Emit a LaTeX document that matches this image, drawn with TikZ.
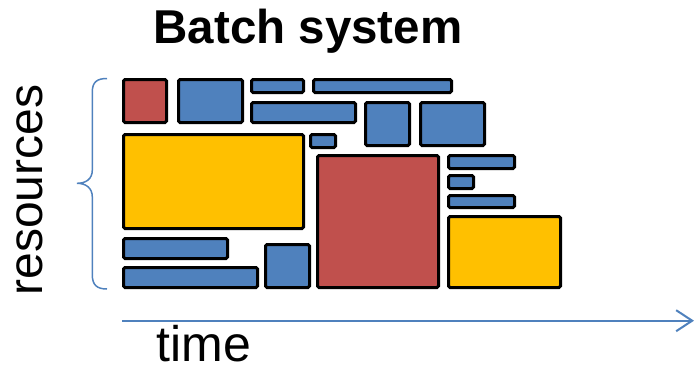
\documentclass[tikz,border=0pt]{standalone}
\usepackage{fontspec}
\setmainfont{Liberation Sans}
\usetikzlibrary{arrows.meta}
\definecolor{jobblue}{RGB}{79,129,189}
\definecolor{jobred}{RGB}{192,80,77}
\definecolor{jobyellow}{RGB}{255,192,0}
\definecolor{axisblue}{RGB}{79,129,189}
\tikzset{
  job/.style={draw=black, line width=3pt, rounded corners=1.5pt},
  bluejob/.style={job, fill=jobblue},
  redjob/.style={job, fill=jobred},
  yellowjob/.style={job, fill=jobyellow},
  bigtext/.style={inner sep=0pt},
}
\begin{document}
\begin{tikzpicture}[x=1pt,y=-1pt]
\useasboundingbox (0,0) rectangle (694,365);
% title
\node[bigtext, font=\fontsize{47.5}{56}\selectfont\bfseries, anchor=base] (title) at (308,43.3) {Batch system};
% jobs (outer edges shrunk by half the line width)
\def\job#1#2#3#4#5{\draw[#1] (#2+1.5,#3+1.5) rectangle (#4-1.5,#5-1.5);}
\job{redjob}{122}{78}{168}{124}
\job{bluejob}{177}{78}{244}{124}
\job{bluejob}{250}{78}{305}{94}
\job{bluejob}{312}{78}{453}{94}
\job{bluejob}{250}{101}{357}{124}
\job{bluejob}{364}{101}{411}{147}
\job{bluejob}{419}{101}{486}{147}
\job{yellowjob}{122}{133}{305}{230}
\job{bluejob}{309}{133}{337}{149}
\job{redjob}{316}{154}{440}{289}
\job{bluejob}{447}{154}{516}{170}
\job{bluejob}{447}{174}{475}{190}
\job{bluejob}{447}{194}{516}{209}
\job{yellowjob}{447}{215}{562}{289}
\job{bluejob}{122}{237}{229}{260}
\job{bluejob}{122}{266}{259}{289}
\job{bluejob}{264}{243}{311}{289}
% brace
\draw[axisblue, line width=1.5pt] (107,78.5) .. controls (97,78.5) and (92.3,82) .. (92.3,92)
  -- (92.3,170) .. controls (92.3,179) and (86,183.3) .. (77,183.3)
  .. controls (86,183.3) and (92.3,188) .. (92.3,197)
  -- (92.3,275) .. controls (92.3,285) and (97,289) .. (107,289);
% resources label
\node[bigtext, font=\fontsize{48}{56}\selectfont, rotate=90, anchor=base] (res) at (42.7,190) {resources};
% time axis
\coordinate (t0) at (122,320.7);
\coordinate (t1) at (694,320.7);
\draw[axisblue, line width=2pt, -{Straight Barb[length=16pt,width=21pt,line width=2pt]}] (t0) -- (t1);
\node[bigtext, font=\fontsize{50}{58}\selectfont, anchor=base west] (time) at (156.5,361.5) {time};
\end{tikzpicture}
\end{document}
